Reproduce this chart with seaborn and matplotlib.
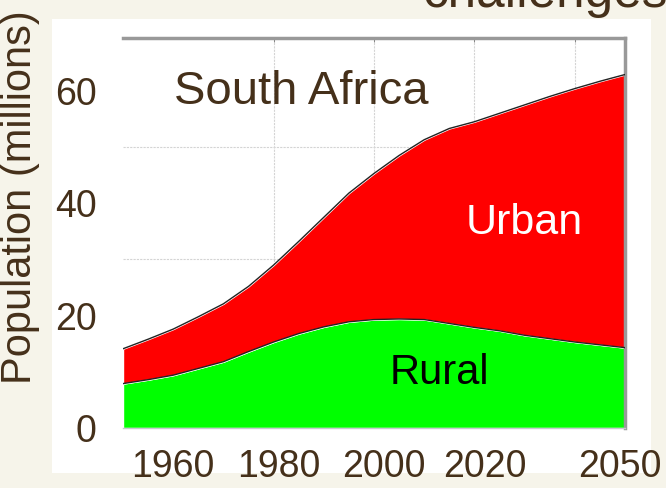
import matplotlib
matplotlib.use('Agg')
import matplotlib.pyplot as plt
import seaborn as sns
from matplotlib.patches import Rectangle

# South Africa population, millions
years = [1950, 1955, 1960, 1965, 1970, 1975, 1980, 1985, 1990, 1995, 2000,
         2005, 2010, 2015, 2020, 2025, 2030, 2035, 2040, 2045, 2050]
rural = [7.9, 8.6, 9.4, 10.6, 11.8, 13.6, 15.3, 16.8, 18.0, 18.9, 19.3,
         19.4, 19.3, 18.6, 17.9, 17.3, 16.5, 15.9, 15.3, 14.8, 14.3]
urban = [6.2, 7.2, 8.2, 9.2, 10.3, 11.6, 13.7, 16.4, 19.5, 22.9, 26.0,
         29.1, 32.0, 34.7, 36.6, 38.7, 41.0, 43.1, 45.1, 46.9, 48.6]
total = [r + u for r, u in zip(rural, urban)]

grid_years = [1960, 1980, 2000, 2020, 2040]
# the year labels sit a little off the grid on the original slide
label_pos = [1960, 1981, 2002, 2022, 2049]
label_txt = ['1960', '1980', '2000', '2020', '2050']
y_ticks = [0, 20, 40, 60]

sns.set_style('white')
plt.rcParams['font.family'] = ['Liberation Sans', 'DejaVu Sans']
brown = '#45301a'

fig = plt.figure(figsize=(6.66, 4.88), dpi=100)
fig.patch.set_facecolor('#f6f4ea')
fig.patches.append(Rectangle((52 / 666, 1 - 473 / 488), 599 / 666, 454 / 488,
                             transform=fig.transFigure, facecolor='white',
                             edgecolor='none', zorder=-5))
fig.text(423 / 666, 1 - 7 / 488, 'challenges', fontsize=37, color=brown,
         ha='left', va='baseline')

ax = fig.add_axes([123 / 666, 1 - 428 / 488, 502 / 666, 390 / 488])
ax.set_facecolor('white')

ax.stackplot(years, rural, urban, colors=['#00ff00', '#ff0000'], zorder=2)
sns.lineplot(x=years, y=rural, ax=ax, color='#222222', lw=1, zorder=3)
sns.lineplot(x=years, y=total, ax=ax, color='#222222', lw=1, zorder=3)

ax.set_xlim(1950, 2050)
ax.set_ylim(0, 69.4)
ax.set_xticks(label_pos)
ax.set_xticklabels(label_txt)
ax.set_xticks(grid_years, minor=True)
ax.set_yticks(y_ticks)
ax.set_yticks(range(10, 70, 10), minor=True)
ax.tick_params(axis='both', which='major', length=0, labelsize=27,
               labelcolor=brown)
ax.tick_params(axis='x', which='major', pad=15)
ax.tick_params(axis='y', which='major', pad=19)
ax.tick_params(axis='x', which='minor', top=True, bottom=False,
               direction='in', length=3, color='#777777')
ax.grid(which='minor', color='#d4d4d4', linestyle=(0, (2, 1)), lw=0.8,
        zorder=1)
ax.set_axisbelow(True)

for side in ['top', 'right']:
    ax.spines[side].set_color('#999999')
    ax.spines[side].set_linewidth(2.5)
ax.spines['left'].set_visible(False)
ax.spines['bottom'].set_color('#c8c8d0')
ax.spines['bottom'].set_linewidth(1)

fig.text(20 / 666, 1 - 197 / 488, 'Population (millions)', rotation=90,
         fontsize=30, color=brown, ha='center', va='center')

ax.text(1985.5, 57.7, 'South Africa', fontsize=34, color=brown,
        ha='center', va='baseline', zorder=4)
ax.text(2029.9, 34.5, 'Urban', fontsize=31, color='white',
        ha='center', va='baseline', zorder=4)
ax.text(2013.1, 7.8, 'Rural', fontsize=30, color='black',
        ha='center', va='baseline', zorder=4)

fig.savefig('out.png', dpi=100, facecolor=fig.get_facecolor())
